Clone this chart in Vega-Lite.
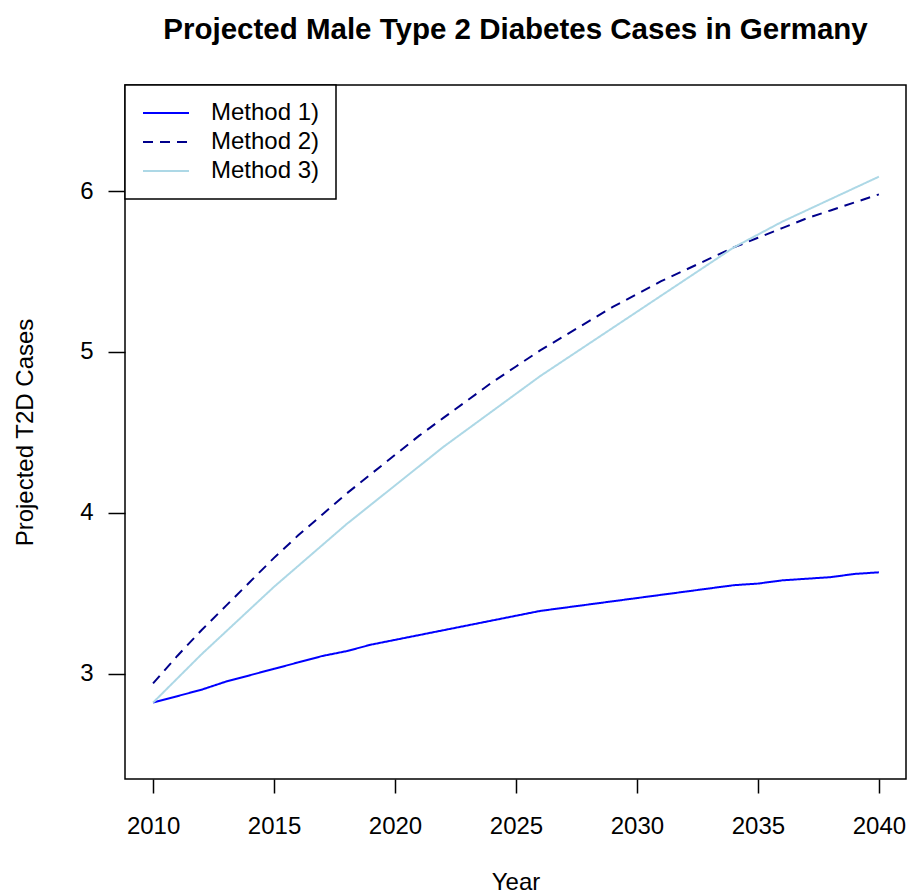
{
  "$schema": "https://vega.github.io/schema/vega-lite/v6.json",
  "width": 781,
  "height": 694,
  "autosize": {"type": "none"},
  "padding": {"left": 125, "top": 85, "right": 5, "bottom": 114},
  "background": "white",
  "title": {
    "text": "Projected Male Type 2 Diabetes Cases in Germany",
    "font": "Liberation Sans",
    "fontSize": 29.5,
    "fontWeight": "bold",
    "color": "black",
    "anchor": "middle",
    "frame": "group",
    "baseline": "alphabetic",
    "offset": 16
  },
  "config": {
    "view": {"stroke": "black", "strokeWidth": 1.5},
    "font": "Liberation Sans",
    "legend": {"strokeWidth": 1.5}
  },
  "data": {
    "values": [
      {"year": 2010, "method": "Method 1)", "cases": 2.82},
      {"year": 2011, "method": "Method 1)", "cases": 2.86},
      {"year": 2012, "method": "Method 1)", "cases": 2.90},
      {"year": 2013, "method": "Method 1)", "cases": 2.95},
      {"year": 2014, "method": "Method 1)", "cases": 2.99},
      {"year": 2015, "method": "Method 1)", "cases": 3.03},
      {"year": 2016, "method": "Method 1)", "cases": 3.07},
      {"year": 2017, "method": "Method 1)", "cases": 3.11},
      {"year": 2018, "method": "Method 1)", "cases": 3.14},
      {"year": 2019, "method": "Method 1)", "cases": 3.18},
      {"year": 2020, "method": "Method 1)", "cases": 3.21},
      {"year": 2021, "method": "Method 1)", "cases": 3.24},
      {"year": 2022, "method": "Method 1)", "cases": 3.27},
      {"year": 2023, "method": "Method 1)", "cases": 3.30},
      {"year": 2024, "method": "Method 1)", "cases": 3.33},
      {"year": 2025, "method": "Method 1)", "cases": 3.36},
      {"year": 2026, "method": "Method 1)", "cases": 3.39},
      {"year": 2027, "method": "Method 1)", "cases": 3.41},
      {"year": 2028, "method": "Method 1)", "cases": 3.43},
      {"year": 2029, "method": "Method 1)", "cases": 3.45},
      {"year": 2030, "method": "Method 1)", "cases": 3.47},
      {"year": 2031, "method": "Method 1)", "cases": 3.49},
      {"year": 2032, "method": "Method 1)", "cases": 3.51},
      {"year": 2033, "method": "Method 1)", "cases": 3.53},
      {"year": 2034, "method": "Method 1)", "cases": 3.55},
      {"year": 2035, "method": "Method 1)", "cases": 3.56},
      {"year": 2036, "method": "Method 1)", "cases": 3.58},
      {"year": 2037, "method": "Method 1)", "cases": 3.59},
      {"year": 2038, "method": "Method 1)", "cases": 3.60},
      {"year": 2039, "method": "Method 1)", "cases": 3.62},
      {"year": 2040, "method": "Method 1)", "cases": 3.63},
      {"year": 2010, "method": "Method 2)", "cases": 2.94},
      {"year": 2011, "method": "Method 2)", "cases": 3.11},
      {"year": 2012, "method": "Method 2)", "cases": 3.27},
      {"year": 2013, "method": "Method 2)", "cases": 3.42},
      {"year": 2014, "method": "Method 2)", "cases": 3.57},
      {"year": 2015, "method": "Method 2)", "cases": 3.72},
      {"year": 2016, "method": "Method 2)", "cases": 3.86},
      {"year": 2017, "method": "Method 2)", "cases": 3.99},
      {"year": 2018, "method": "Method 2)", "cases": 4.12},
      {"year": 2019, "method": "Method 2)", "cases": 4.24},
      {"year": 2020, "method": "Method 2)", "cases": 4.36},
      {"year": 2021, "method": "Method 2)", "cases": 4.48},
      {"year": 2022, "method": "Method 2)", "cases": 4.59},
      {"year": 2023, "method": "Method 2)", "cases": 4.70},
      {"year": 2024, "method": "Method 2)", "cases": 4.81},
      {"year": 2025, "method": "Method 2)", "cases": 4.91},
      {"year": 2026, "method": "Method 2)", "cases": 5.01},
      {"year": 2027, "method": "Method 2)", "cases": 5.10},
      {"year": 2028, "method": "Method 2)", "cases": 5.19},
      {"year": 2029, "method": "Method 2)", "cases": 5.28},
      {"year": 2030, "method": "Method 2)", "cases": 5.36},
      {"year": 2031, "method": "Method 2)", "cases": 5.44},
      {"year": 2032, "method": "Method 2)", "cases": 5.51},
      {"year": 2033, "method": "Method 2)", "cases": 5.58},
      {"year": 2034, "method": "Method 2)", "cases": 5.65},
      {"year": 2035, "method": "Method 2)", "cases": 5.71},
      {"year": 2036, "method": "Method 2)", "cases": 5.77},
      {"year": 2037, "method": "Method 2)", "cases": 5.83},
      {"year": 2038, "method": "Method 2)", "cases": 5.88},
      {"year": 2039, "method": "Method 2)", "cases": 5.93},
      {"year": 2040, "method": "Method 2)", "cases": 5.98},
      {"year": 2010, "method": "Method 3)", "cases": 2.82},
      {"year": 2011, "method": "Method 3)", "cases": 2.97},
      {"year": 2012, "method": "Method 3)", "cases": 3.12},
      {"year": 2013, "method": "Method 3)", "cases": 3.26},
      {"year": 2014, "method": "Method 3)", "cases": 3.40},
      {"year": 2015, "method": "Method 3)", "cases": 3.54},
      {"year": 2016, "method": "Method 3)", "cases": 3.67},
      {"year": 2017, "method": "Method 3)", "cases": 3.80},
      {"year": 2018, "method": "Method 3)", "cases": 3.93},
      {"year": 2019, "method": "Method 3)", "cases": 4.05},
      {"year": 2020, "method": "Method 3)", "cases": 4.17},
      {"year": 2021, "method": "Method 3)", "cases": 4.29},
      {"year": 2022, "method": "Method 3)", "cases": 4.41},
      {"year": 2023, "method": "Method 3)", "cases": 4.52},
      {"year": 2024, "method": "Method 3)", "cases": 4.63},
      {"year": 2025, "method": "Method 3)", "cases": 4.74},
      {"year": 2026, "method": "Method 3)", "cases": 4.85},
      {"year": 2027, "method": "Method 3)", "cases": 4.95},
      {"year": 2028, "method": "Method 3)", "cases": 5.05},
      {"year": 2029, "method": "Method 3)", "cases": 5.15},
      {"year": 2030, "method": "Method 3)", "cases": 5.25},
      {"year": 2031, "method": "Method 3)", "cases": 5.35},
      {"year": 2032, "method": "Method 3)", "cases": 5.45},
      {"year": 2033, "method": "Method 3)", "cases": 5.55},
      {"year": 2034, "method": "Method 3)", "cases": 5.65},
      {"year": 2035, "method": "Method 3)", "cases": 5.73},
      {"year": 2036, "method": "Method 3)", "cases": 5.81},
      {"year": 2037, "method": "Method 3)", "cases": 5.88},
      {"year": 2038, "method": "Method 3)", "cases": 5.95},
      {"year": 2039, "method": "Method 3)", "cases": 6.02},
      {"year": 2040, "method": "Method 3)", "cases": 6.09}
    ]
  },
  "mark": {"type": "line", "clip": true},
  "encoding": {
    "x": {
      "field": "year",
      "type": "quantitative",
      "scale": {"domain": [2008.84, 2041.12], "nice": false, "zero": false},
      "axis": {
        "title": "Year",
        "values": [2010, 2015, 2020, 2025, 2030, 2035, 2040],
        "format": "d",
        "grid": false,
        "domain": false,
        "tickColor": "black",
        "tickSize": 14,
        "tickWidth": 1.5,
        "labelFontSize": 24,
        "labelColor": "black",
        "labelPadding": 21,
        "labelFont": "Liberation Sans",
        "titleFont": "Liberation Sans",
        "titleFontSize": 24,
        "titleFontWeight": "normal",
        "titleColor": "black",
        "titleBaseline": "alphabetic",
        "titleY": 110
      }
    },
    "y": {
      "field": "cases",
      "type": "quantitative",
      "scale": {"domain": [2.345, 6.66], "nice": false, "zero": false},
      "axis": {
        "title": "Projected T2D Cases",
        "values": [3, 4, 5, 6],
        "format": "d",
        "grid": false,
        "domain": false,
        "tickColor": "black",
        "tickSize": 17,
        "tickWidth": 1.5,
        "labelFontSize": 24,
        "labelColor": "black",
        "labelPadding": 15,
        "labelFont": "Liberation Sans",
        "titleFont": "Liberation Sans",
        "titleFontSize": 24,
        "titleFontWeight": "normal",
        "titleColor": "black",
        "titleBaseline": "alphabetic",
        "titleX": -93
      }
    },
    "color": {
      "field": "method",
      "type": "nominal",
      "scale": {"domain": ["Method 1)", "Method 2)", "Method 3)"], "range": ["#0000FF", "#00008B", "#ADD8E6"]},
      "legend": {
        "title": null,
        "orient": "none",
        "legendX": 0,
        "legendY": 0,
        "direction": "vertical",
        "strokeColor": "black",
        "fillColor": "white",
        "padding": 16,
        "symbolType": "stroke",
        "symbolSize": 2116,
        "symbolOffset": 1,
        "clipHeight": 24,
        "labelFontSize": 24,
        "labelFont": "Liberation Sans",
        "labelColor": "black",
        "labelOffset": 21,
        "rowPadding": 5
      }
    },
    "strokeDash": {
      "field": "method",
      "type": "nominal",
      "scale": {"domain": ["Method 1)", "Method 2)", "Method 3)"], "range": [[1, 0], [10, 7], [1, 0]]},
      "legend": null
    },
    "strokeWidth": {
      "field": "method",
      "type": "nominal",
      "scale": {"domain": ["Method 1)", "Method 2)", "Method 3)"], "range": [2, 2, 1.5]},
      "legend": null
    }
  }
}
